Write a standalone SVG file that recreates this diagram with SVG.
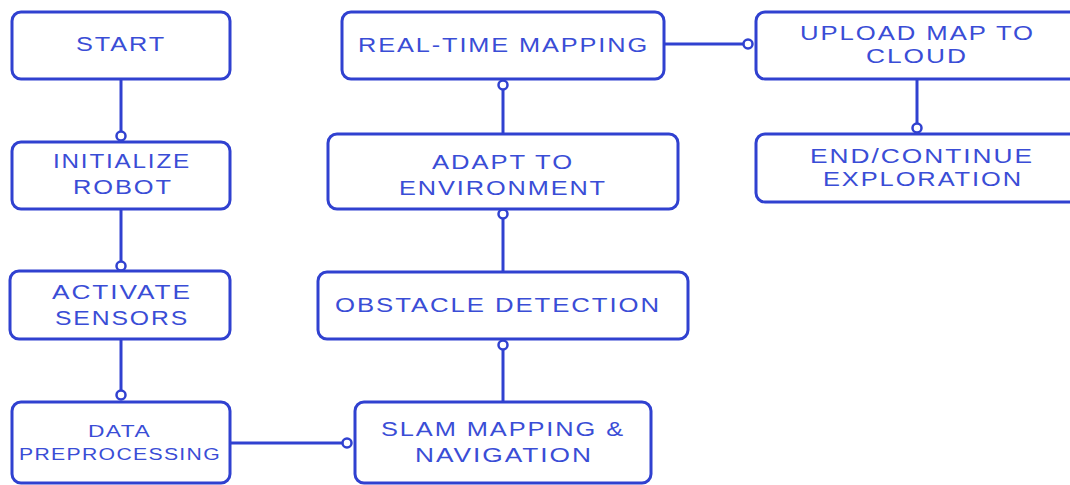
<svg xmlns="http://www.w3.org/2000/svg" width="1070" height="485" viewBox="0 0 1070 485">
<style>
.box{fill:#ffffff;stroke:#3041d0;stroke-width:3}
.t{font-family:"Liberation Sans",Arial,sans-serif;font-size:20px;fill:#3a4dd6;letter-spacing:1.5px}
.s{font-size:16px;letter-spacing:1px}
.ln{stroke:#3041d0;stroke-width:3;fill:none}
.dot{fill:#ffffff;stroke:#3041d0;stroke-width:2.5}
</style>
<rect width="1070" height="485" fill="#ffffff"/>
<g id="connectors">
<line class="ln" x1="121" y1="79" x2="121" y2="131"/>
<circle class="dot" cx="121" cy="136" r="4.5"/>
<line class="ln" x1="121" y1="209" x2="121" y2="261"/>
<circle class="dot" cx="121" cy="266" r="4.5"/>
<line class="ln" x1="121" y1="339" x2="121" y2="390"/>
<circle class="dot" cx="121" cy="395" r="4.5"/>
<line class="ln" x1="230" y1="443" x2="342" y2="443"/>
<circle class="dot" cx="347" cy="443" r="4.5"/>
<line class="ln" x1="503" y1="402" x2="503" y2="350"/>
<circle class="dot" cx="503" cy="345" r="4.5"/>
<line class="ln" x1="503" y1="272" x2="503" y2="219"/>
<circle class="dot" cx="503" cy="214" r="4.5"/>
<line class="ln" x1="503" y1="134" x2="503" y2="90"/>
<circle class="dot" cx="503" cy="85" r="4.5"/>
<line class="ln" x1="664" y1="44" x2="743" y2="44"/>
<circle class="dot" cx="748" cy="44" r="4.5"/>
<line class="ln" x1="917" y1="79" x2="917" y2="123"/>
<circle class="dot" cx="917" cy="128" r="4.5"/>
</g>
<g id="start">
<rect class="box" x="12" y="12" width="218" height="67" rx="9"/>
<text class="t" x="76" y="51" textLength="90" lengthAdjust="spacingAndGlyphs">START</text>
</g>
<g id="initialize">
<rect class="box" x="12" y="142" width="218" height="67" rx="9"/>
<text class="t" x="53" y="168" textLength="138" lengthAdjust="spacingAndGlyphs">INITIALIZE</text>
<text class="t" x="73" y="194" textLength="100" lengthAdjust="spacingAndGlyphs">ROBOT</text>
</g>
<g id="activate">
<rect class="box" x="10" y="271" width="220" height="68" rx="9"/>
<text class="t" x="52" y="299" textLength="140" lengthAdjust="spacingAndGlyphs">ACTIVATE</text>
<text class="t" x="55" y="325" textLength="134" lengthAdjust="spacingAndGlyphs">SENSORS</text>
</g>
<g id="data">
<rect class="box" x="12" y="402" width="218" height="81" rx="9"/>
<text class="t s" x="88" y="437" textLength="63" lengthAdjust="spacingAndGlyphs">DATA</text>
<text class="t s" x="19" y="460" textLength="202" lengthAdjust="spacingAndGlyphs">PREPROCESSING</text>
</g>
<g id="slam">
<rect class="box" x="355" y="402" width="296" height="81" rx="9"/>
<text class="t" x="381" y="436" textLength="244" lengthAdjust="spacingAndGlyphs">SLAM MAPPING &amp;</text>
<text class="t" x="415" y="462" textLength="178" lengthAdjust="spacingAndGlyphs">NAVIGATION</text>
</g>
<g id="obstacle">
<rect class="box" x="318" y="272" width="370" height="67" rx="9"/>
<text class="t" x="335" y="312" textLength="326" lengthAdjust="spacingAndGlyphs">OBSTACLE DETECTION</text>
</g>
<g id="adapt">
<rect class="box" x="328" y="134" width="350" height="75" rx="9"/>
<text class="t" x="432" y="169" textLength="142" lengthAdjust="spacingAndGlyphs">ADAPT TO</text>
<text class="t" x="399" y="195" textLength="208" lengthAdjust="spacingAndGlyphs">ENVIRONMENT</text>
</g>
<g id="realtime">
<rect class="box" x="342" y="12" width="322" height="67" rx="9"/>
<text class="t" x="358" y="52" textLength="291" lengthAdjust="spacingAndGlyphs">REAL-TIME MAPPING</text>
</g>
<g id="upload">
<rect class="box" x="756" y="12" width="330" height="67" rx="9"/>
<text class="t" x="800" y="40" textLength="235" lengthAdjust="spacingAndGlyphs">UPLOAD MAP TO</text>
<text class="t" x="866" y="63" textLength="102" lengthAdjust="spacingAndGlyphs">CLOUD</text>
</g>
<g id="end">
<rect class="box" x="756" y="134" width="330" height="68" rx="9"/>
<text class="t" x="810" y="163" textLength="224" lengthAdjust="spacingAndGlyphs">END/CONTINUE</text>
<text class="t" x="823" y="186" textLength="200" lengthAdjust="spacingAndGlyphs">EXPLORATION</text>
</g>
</svg>
